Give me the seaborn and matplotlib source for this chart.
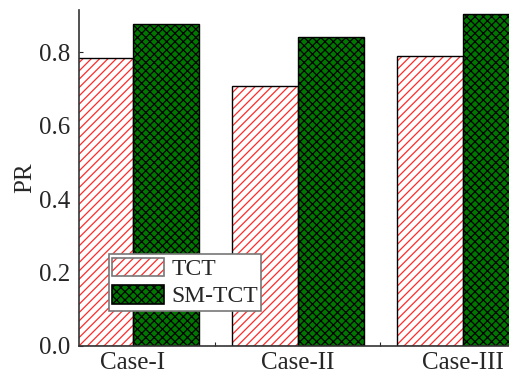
import matplotlib
matplotlib.use("Agg")
import matplotlib.pyplot as plt
from matplotlib.patches import Rectangle
from matplotlib.legend_handler import HandlerTuple
import seaborn as sns
import pandas as pd

cases = ["Case-I", "Case-II", "Case-III"]
methods = ["TCT", "SM-TCT"]
tct_pr = [0.784, 0.707, 0.789]
smtct_pr = [0.876, 0.841, 0.903]

df = pd.DataFrame({
    "case": cases * 2,
    "method": [methods[0]] * 3 + [methods[1]] * 3,
    "PR": tct_pr + smtct_pr,
})

sns.set_theme(style="white")
plt.rcParams["font.family"] = ["Liberation Serif", "DejaVu Serif"]
plt.rcParams["hatch.linewidth"] = 0.9

fig = plt.figure(figsize=(5.09, 3.81), dpi=100)
ax = fig.add_axes([0.155, 0.092, 0.845, 0.882])

fills = {"TCT": "white", "SM-TCT": "#007800"}
sns.barplot(data=df, x="case", y="PR", hue="method", hue_order=methods,
            palette=fills, width=0.8, gap=0, saturation=1,
            errorbar=None, ax=ax, legend=False)

styles = {"TCT": ("////", "#ff2a2a"), "SM-TCT": ("xxxx", "black")}
for container, m in zip(ax.containers, methods):
    hatch, hcol = styles[m]
    for p in container.patches:
        p.set_hatch(hatch)
        p.set_edgecolor(hcol)
        p.set_linewidth(0)
        ax.add_patch(Rectangle(p.get_xy(), p.get_width(), p.get_height(),
                               fill=False, edgecolor="black", linewidth=1.0))

# legend keys: hatched fill with an outline drawn on top
handles = []
outline_cols = {"TCT": "#777777", "SM-TCT": "black"}
for m in methods:
    hatch, hcol = styles[m]
    body = Rectangle((0, 0), 1, 1, facecolor=fills[m], edgecolor=hcol,
                     hatch=hatch, linewidth=0)
    edge = Rectangle((0, 0), 1, 1, fill=False, edgecolor=outline_cols[m],
                     linewidth=1.2)
    handles.append((body, edge))

leg = ax.legend(handles, methods, loc="lower left", bbox_to_anchor=(0.069, 0.104),
                handler_map={tuple: HandlerTuple(ndivide=1, pad=0)},
                fontsize=17, frameon=True, fancybox=False, edgecolor="#777777",
                framealpha=1, handlelength=2.2, handleheight=0.85,
                borderpad=0.15, labelspacing=0.2, handletextpad=0.3,
                borderaxespad=0)
leg.get_frame().set_linewidth(1.2)

ax.set_xlim(-0.327, 2.28)
ax.set_ylim(0, 0.915)
ax.set_yticks([0.0, 0.2, 0.4, 0.6, 0.8])
ax.set_yticklabels(["0.0", "0.2", "0.4", "0.6", "0.8"])
ax.set_xticks([0, 1, 2])
ax.set_xticklabels(cases)
ax.set_xticks([0.5, 1.5], minor=True)
ax.tick_params(axis="x", which="major", length=0, labelsize=18, pad=4)
ax.tick_params(axis="x", which="minor", direction="in", length=3, width=0.8, bottom=True)
ax.tick_params(axis="y", direction="in", length=3, width=0.8, labelsize=18, pad=6, left=True)
ax.set_xlabel("")
ax.set_ylabel("PR", fontsize=18, labelpad=2)

for s in ["top", "right"]:
    ax.spines[s].set_visible(False)
for s in ["left", "bottom"]:
    ax.spines[s].set_color("#333333")
    ax.spines[s].set_linewidth(1.2)

fig.savefig("out.png", dpi=100)
